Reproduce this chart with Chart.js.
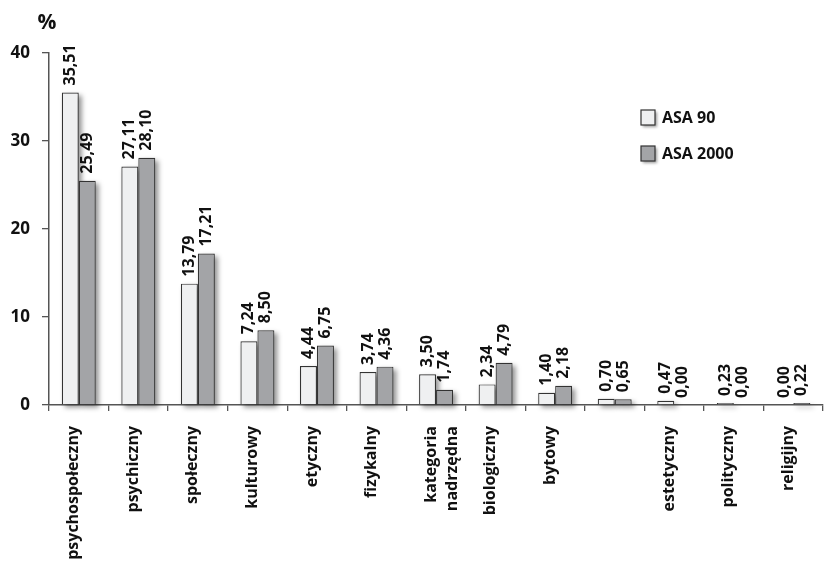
<!DOCTYPE html>
<html lang="pl">
<head>
<meta charset="utf-8">
<title>ASA 90 / ASA 2000</title>
<script src="https://cdn.jsdelivr.net/npm/chart.js@4.4.1/dist/chart.umd.min.js"></script>
<style>
    html, body { margin: 0; padding: 0; background: #fff; overflow: hidden; }
    #wrap { width: 830px; height: 563px; }
</style>
</head>
<body>
<div id="wrap"><canvas id="wykres" width="830" height="563"></canvas></div>
<script>
// Kategorie i wartości procentowe dla obu badań
const kategorie = [
    'psychospołeczny', 'psychiczny', 'społeczny', 'kulturowy', 'etyczny', 'fizykalny',
    ['kategoria', 'nadrzędna'], 'biologiczny', 'bytowy', '', 'estetyczny', 'polityczny', 'religijny'
];
const asa90 = [35.51, 27.11, 13.79, 7.24, 4.44, 3.74, 3.50, 2.34, 1.40, 0.70, 0.47, 0.23, 0.00];
const asa2000 = [25.49, 28.10, 17.21, 8.50, 6.75, 4.36, 1.74, 4.79, 2.18, 0.65, 0.00, 0.00, 0.22];
const osY = [0, 10, 20, 30, 40];

const czcionka = '"Open Sans", "DejaVu Sans", sans-serif';

// Cień pod słupkami
const cienie = {
    id: 'cienie',
    beforeDatasetsDraw(chart) {
        const ctx = chart.ctx;
        ctx.save();
        ctx.filter = 'blur(2.5px)';
        ctx.fillStyle = 'rgba(0,0,0,0.42)';
        chart.data.datasets.forEach((ds, i) => {
            chart.getDatasetMeta(i).data.forEach(bar => {
                const h = bar.base - bar.y;
                if (h < 0.5) return;
                ctx.fillRect(bar.x - bar.width / 2 + 3, bar.y + 3, bar.width, h);
            });
        });
        ctx.restore();
    }
};

// Wartości nad słupkami (pionowo)
const etykiety = {
    id: 'etykiety',
    afterDatasetsDraw(chart) {
        const ctx = chart.ctx;
        ctx.save();
        ctx.font = 'bold 16px ' + czcionka;
        ctx.fillStyle = '#111';
        ctx.textAlign = 'left';
        ctx.textBaseline = 'middle';
        chart.data.datasets.forEach((ds, i) => {
            chart.getDatasetMeta(i).data.forEach((bar, j) => {
                const tekst = ds.data[j].toFixed(2).replace('.', ',');
                ctx.save();
                ctx.translate(bar.x, bar.y - 7);
                ctx.rotate(-Math.PI / 2);
                ctx.fillText(tekst, 0, 0);
                ctx.restore();
            });
        });
        ctx.restore();
    }
};

// Znak % nad osią Y oraz legenda
const dodatki = {
    id: 'dodatki',
    afterDraw(chart) {
        const ctx = chart.ctx;
        const a = chart.chartArea;
        ctx.save();
        ctx.fillStyle = '#111';
        ctx.font = 'bold 21px ' + czcionka;
        ctx.textAlign = 'center';
        ctx.textBaseline = 'middle';
        ctx.fillText('%', a.left - 2, a.top - 30);

        ctx.font = 'bold 16px ' + czcionka;
        ctx.textAlign = 'left';
        chart.data.datasets.forEach((ds, i) => {
            const x = 641, y = 110 + i * 36;
            ctx.save();
            ctx.filter = 'blur(1.5px)';
            ctx.fillStyle = 'rgba(0,0,0,0.4)';
            ctx.fillRect(x + 2, y + 2, 14, 15);
            ctx.restore();
            ctx.fillStyle = ds.backgroundColor;
            ctx.strokeStyle = '#333';
            ctx.lineWidth = 1.2;
            ctx.fillRect(x, y, 14, 15);
            ctx.strokeRect(x, y, 14, 15);
            ctx.fillStyle = '#111';
            ctx.fillText(ds.label, x + 21, y + 8);
        });
        ctx.restore();
    }
};

new Chart(document.getElementById('wykres'), {
    type: 'bar',
    data: {
        labels: kategorie,
        datasets: [
            {
                label: 'ASA 90',
                data: asa90,
                backgroundColor: '#eff0f1',
                borderColor: '#333',
                borderWidth: 1.2,
                categoryPercentage: 0.57,
                barPercentage: 1
            },
            {
                label: 'ASA 2000',
                data: asa2000,
                backgroundColor: '#a3a4a7',
                borderColor: '#333',
                borderWidth: 1.2,
                categoryPercentage: 0.57,
                barPercentage: 1
            }
        ]
    },
    options: {
        responsive: false,
        animation: false,
        layout: { padding: { top: 53, right: 1, left: 0, bottom: 0 } },
        plugins: {
            legend: { display: false },
            tooltip: { enabled: false }
        },
        scales: {
            x: {
                grid: { drawOnChartArea: false, color: '#555', tickLength: 6, lineWidth: 1.3 },
                border: { color: '#555', width: 1.5 },
                ticks: {
                    color: '#111',
                    font: { family: czcionka, size: 16, weight: 'bold', lineHeight: 1.35 },
                    minRotation: 90,
                    maxRotation: 90,
                    autoSkip: false,
                    padding: 15,
                    labelOffset: -5
                },
                afterFit(scale) { scale.height = 158; }
            },
            y: {
                min: 0,
                max: 40,
                afterBuildTicks(scale) { scale.ticks = osY.map(v => ({ value: v })); },
                grid: { drawOnChartArea: false, color: '#555', tickLength: 7, lineWidth: 1.3 },
                border: { color: '#555', width: 1.5 },
                ticks: {
                    color: '#111',
                    font: { family: czcionka, size: 17, weight: 'bold' },
                    padding: 12
                },
                afterFit(scale) { scale.width = 49; }
            }
        }
    },
    plugins: [cienie, etykiety, dodatki]
});
</script>
</body>
</html>
